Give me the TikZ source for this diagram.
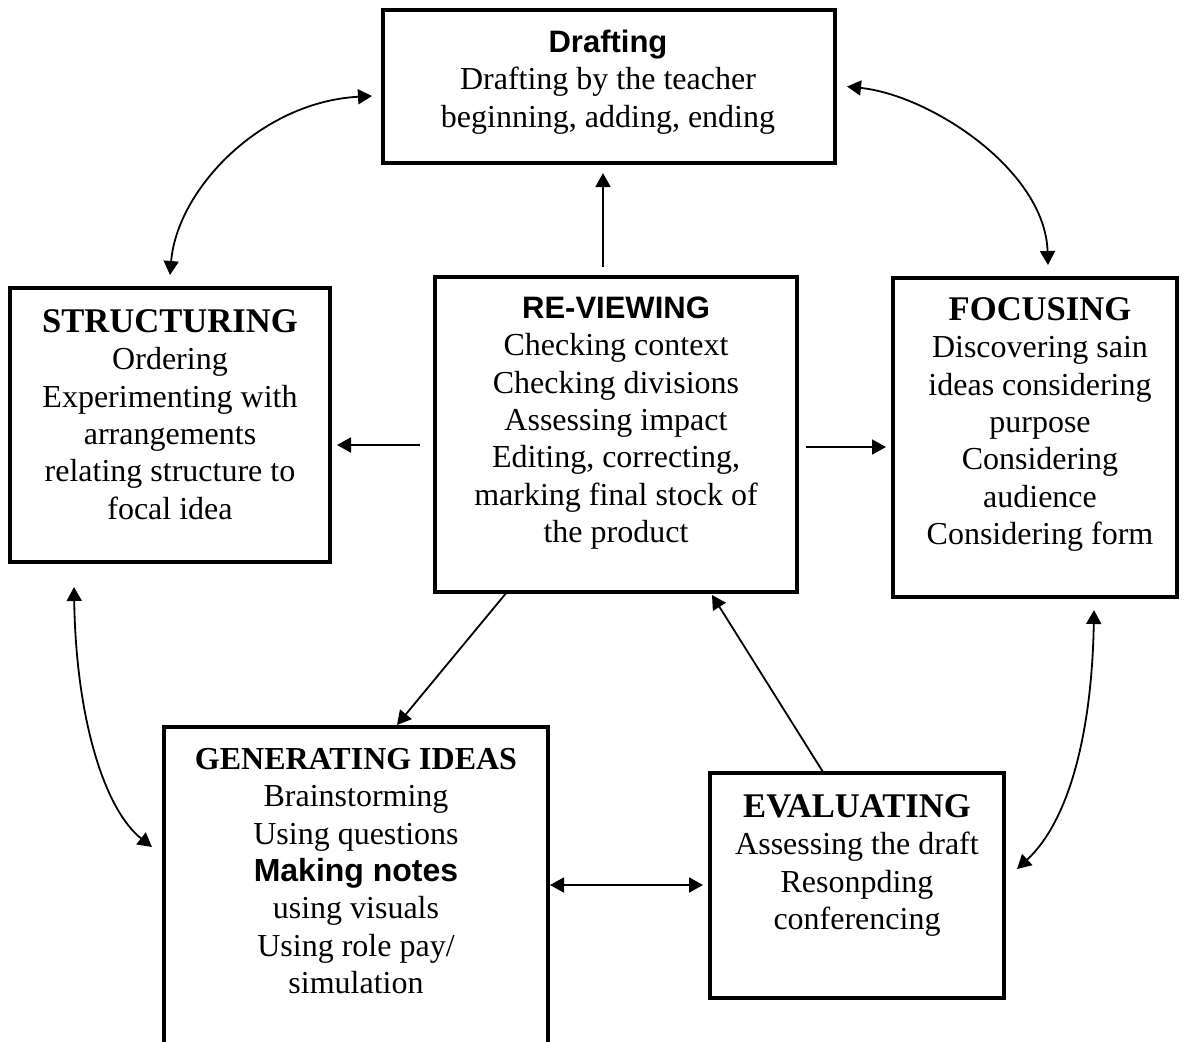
\documentclass[tikz,border=0pt]{standalone}
\usepackage{fontspec}
\setmainfont{Liberation Serif}
\setsansfont{Liberation Sans}
\usetikzlibrary{arrows.meta,calc}

\begin{document}
\begin{tikzpicture}[x=0.5pt,y=-0.5pt,
  stage/.style={draw, line width=2pt, rectangle, inner sep=0pt, outer sep=0pt},
  txt/.style={anchor=north, align=center, inner sep=0pt,
    font=\fontsize{16}{18.65}\selectfont},
  link/.style={line width=0.9pt, -{Triangle[length=7pt,width=7.5pt]}},
  twoway/.style={line width=0.9pt, {Triangle[length=7pt,width=7.5pt]}-{Triangle[length=7pt,width=7.5pt]}}
]
\newcommand{\serifhead}[1]{{\fontsize{17.3}{18.65}\selectfont\bfseries #1}}
\newcommand{\sanshead}[2][15.5]{{\sffamily\bfseries\fontsize{#1}{18.65}\selectfont #2}}

\useasboundingbox[fill=white] (0,0) rectangle (1189,1041);

% stage boxes
\node[stage, minimum width=226pt, minimum height=76.5pt]  (draft)  at (609,86.5)  {};
\node[stage, minimum width=160pt, minimum height=137pt]   (struct) at (170,425)   {};
\node[stage, minimum width=181pt, minimum height=157.5pt] (rev)    at (616,434.5) {};
\node[stage, minimum width=142pt, minimum height=159.5pt] (foc)    at (1035,437.5){};
\node[stage, minimum width=192pt, minimum height=169pt]   (gen)    at (356,896)   {};
\node[stage, minimum width=147pt, minimum height=112.5pt] (eval)   at (857,885.5) {};

% box texts
\node[txt] (draftT) at (608,26)
  {\strut\sanshead{Drafting}\\Drafting by the teacher\\beginning, adding, ending};
\node[txt] (structT) at (170,306)
  {\strut\serifhead{STRUCTURING}\\Ordering\\Experimenting with\\arrangements\\relating structure to\\focal idea};
\node[txt] (revT) at (616,292)
  {\strut\sanshead{RE-VIEWING}\\Checking context\\Checking divisions\\Assessing impact\\Editing, correcting,\\marking final stock of\\the product};
\node[txt] (focT) at (1040,294)
  {\strut\serifhead{FOCUSING}\\Discovering sain\\ideas considering\\purpose\\Considering\\audience\\Considering form};
\node[txt] (genT) at (356,743)
  {\strut{\bfseries GENERATING IDEAS}\\Brainstorming\\Using questions\\\sanshead[16]{Making notes}\\using visuals\\Using role pay/\\simulation};
\node[txt] (evalT) at (857,791)
  {\strut\serifhead{EVALUATING}\\Assessing the draft\\Resonpding\\conferencing};

% straight connectors
\draw[link] ($(rev.north)+(-13,-10)$) -- ($(rev.north |- draft.south)+(-13,10)$);
\draw[link] ($(rev.west)+(-15,10.5)$) -- ($(struct.east)+(7,20)$);
\draw[link] ($(rev.east)+(9,12.5)$) -- ($(foc.west)+(-7,9.5)$);
\draw[link] ($(rev.south)+(-109,0)$) -- ($(gen.north)+(41,-2)$);
\draw[link] ($(eval.north)+(-34,-1)$) -- ($(rev.south)+(96,3)$);
\draw[twoway] ($(gen.east)+(2,-11)$) -- ($(eval.west)+(-7,-0.5)$);

% curved two-way connectors
\draw[twoway] ($(struct.north)+(0,-13)$) .. controls (177,190) and (260,102) .. ($(draft.west)+(-11,9.5)$);
\draw[twoway] ($(draft.east)+(12,0)$) .. controls (930,95) and (1045,170) .. ($(foc.north)+(13,-13)$);
\draw[twoway] ($(struct.south)+(-96,25)$) .. controls (76,720) and (105,810) .. ($(gen.west)+(-12,-49)$);
\draw[twoway] ($(foc.south)+(59,13)$) .. controls (1092,730) and (1070,820) .. ($(eval.east)+(13,-16.5)$);
\end{tikzpicture}
\end{document}
